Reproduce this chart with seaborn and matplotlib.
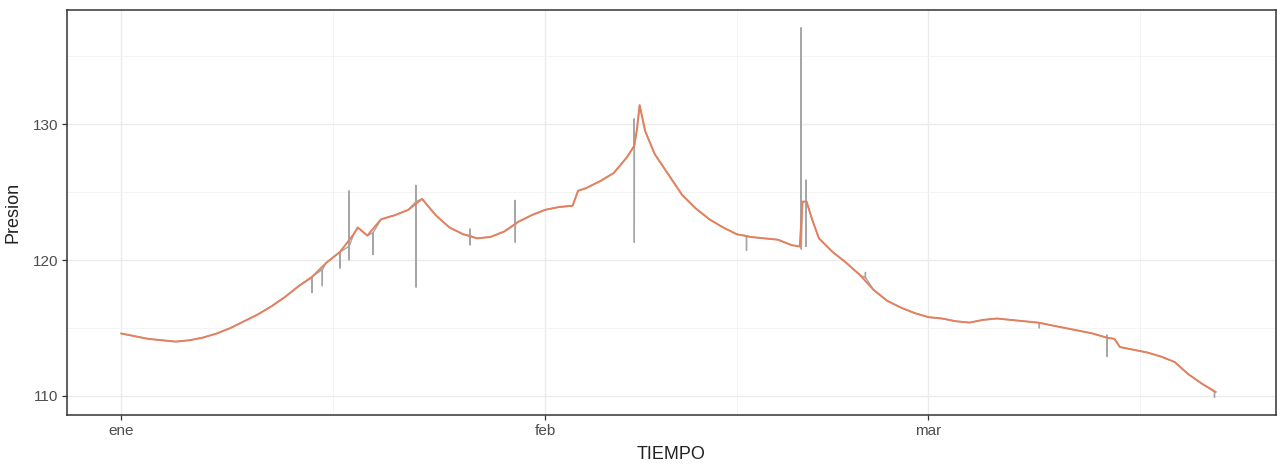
import numpy as np
import pandas as pd
import matplotlib
matplotlib.use("Agg")
import matplotlib.pyplot as plt
import matplotlib.dates as mdates
import seaborn as sns

# ---------------- data ----------------
start = pd.Timestamp("2019-01-01")

# smoothed pressure (orange), day offset from Jan 1
smooth_days = [0, 1, 2, 3, 4, 5, 6, 7, 8, 9, 10, 11, 12, 13, 14, 15, 16, 17, 17.3, 18,
               19, 20, 21, 22, 23, 24, 25, 26, 27, 28, 29, 30, 31, 32, 33, 33.4, 34, 35, 36,
               37, 37.5, 37.7, 37.9, 38.3, 39, 40, 41, 42, 43, 44, 45, 46, 47, 48, 49,
               49.6, 49.8, 50.1, 50.5, 51, 52, 53, 54, 55, 56, 57, 58, 59, 60, 61, 62,
               63, 64, 65, 66, 67, 68, 69, 70, 71, 72, 72.6, 73, 74, 75, 76, 77, 78, 79, 80]
smooth_vals = [114.6, 114.4, 114.2, 114.1, 114.0, 114.1, 114.3, 114.6, 115.0, 115.5,
               116.0, 116.6, 117.3, 118.1, 118.8, 119.8, 120.6, 121.9, 122.4, 121.8,
               123.0, 123.3, 123.7, 124.5, 123.3, 122.4, 121.9, 121.6, 121.7, 122.1,
               122.8, 123.3, 123.7, 123.9, 124.0, 125.1, 125.3, 125.8, 126.4,
               127.6, 128.4, 129.6, 131.4, 129.5, 127.8, 126.3, 124.8, 123.8, 123.0,
               122.4, 121.9, 121.7, 121.6, 121.5, 121.1,
               121.0, 124.3, 124.3, 123.0, 121.6, 120.6, 119.8, 118.9, 117.8, 117.0,
               116.5, 116.1, 115.8, 115.7, 115.5, 115.4, 115.6, 115.7, 115.6, 115.5,
               115.4, 115.2, 115.0, 114.8, 114.6, 114.3, 114.2, 113.6, 113.4, 113.2,
               112.9, 112.5, 111.6, 110.9, 110.3]

# raw sensor spikes (grey): day, level around it, max and min reached
spike_days  = [13.95, 14.7, 16.0, 16.65, 18.4, 21.55, 25.5, 28.8, 37.5, 45.7,
               49.7, 50.05, 54.4, 67.1, 72.05, 79.9]
spike_base  = [118.7, 119.3, 120.6, 121.0, 122.0, 124.3, 121.8, 122.6, 128.4, 121.8,
               121.0, 124.3, 118.7, 115.4, 114.3, 110.3]
spike_high  = [118.7, 119.3, 120.6, 125.1, 122.0, 125.5, 122.3, 124.4, 130.4, 121.8,
               137.1, 125.9, 119.1, 115.4, 114.5, 110.3]
spike_low   = [117.6, 118.1, 119.4, 120.0, 120.4, 118.0, 121.1, 121.3, 121.3, 120.7,
               120.8, 121.0, 118.7, 115.0, 112.9, 109.9]

x_tick_days = [0, 31, 59]
x_tick_labels = ["ene", "feb", "mar"]
y_ticks = [110, 120, 130]

# ---------------- frames ----------------
smooth = pd.DataFrame({
    "TIEMPO": start + pd.to_timedelta(smooth_days, unit="D"),
    "Presion": smooth_vals,
})

g_days = list(smooth_days)
g_vals = list(smooth_vals)
for d, b, h, l in zip(spike_days, spike_base, spike_high, spike_low):
    g_days += [d - 0.01, d, d + 0.01, d + 0.02]
    g_vals += [b, h, l, b]
order = np.argsort(np.array(g_days), kind="stable")
raw = pd.DataFrame({
    "TIEMPO": start + pd.to_timedelta(np.array(g_days)[order], unit="D"),
    "Presion": np.array(g_vals)[order],
})

# ---------------- plot ----------------
sns.set_theme(style="white")
plt.rcParams["font.family"] = ["Liberation Sans", "DejaVu Sans"]

fig = plt.figure(figsize=(12.83, 4.65), dpi=100)
ax = fig.add_axes([0.0522, 0.1075, 0.9423, 0.871])

sns.lineplot(data=raw, x="TIEMPO", y="Presion", ax=ax, color="#a6a6a6",
             linewidth=1.0, estimator=None, sort=False, zorder=3)
sns.lineplot(data=smooth, x="TIEMPO", y="Presion", ax=ax, color="#E4805E",
             linewidth=1.4, estimator=None, sort=False, zorder=4)

ax.set_xlim(start - pd.Timedelta(days=3.95), start + pd.Timedelta(days=84.4))
ax.set_ylim(108.6, 138.4)

major_x = [mdates.date2num(start + pd.Timedelta(days=d)) for d in x_tick_days]
ax.set_xticks(major_x)
ax.set_xticklabels(x_tick_labels)
minor_x = [mdates.date2num(start + pd.Timedelta(days=d)) for d in [15.5, 45, 74.5]]
ax.set_xticks(minor_x, minor=True)
ax.set_yticks(y_ticks)
ax.set_yticks([115, 125, 135], minor=True)

ax.grid(which="major", color="#ebebeb", linewidth=1.0, zorder=0)
ax.grid(which="minor", color="#f2f2f2", linewidth=0.6, zorder=0)
ax.set_axisbelow(True)

for s in ax.spines.values():
    s.set_color("#333333")
    s.set_linewidth(1.1)

ax.tick_params(axis="both", which="major", length=3.5, width=0.9, color="#333333",
               labelcolor="#4d4d4d", labelsize=11, bottom=True, left=True, pad=3)
ax.tick_params(axis="both", which="minor", length=0)
ax.set_xlabel("TIEMPO", fontsize=13, color="#222222", labelpad=6)
ax.set_ylabel("Presion", fontsize=13, color="#222222", labelpad=8)

fig.savefig("out.png", dpi=100, facecolor="white")
